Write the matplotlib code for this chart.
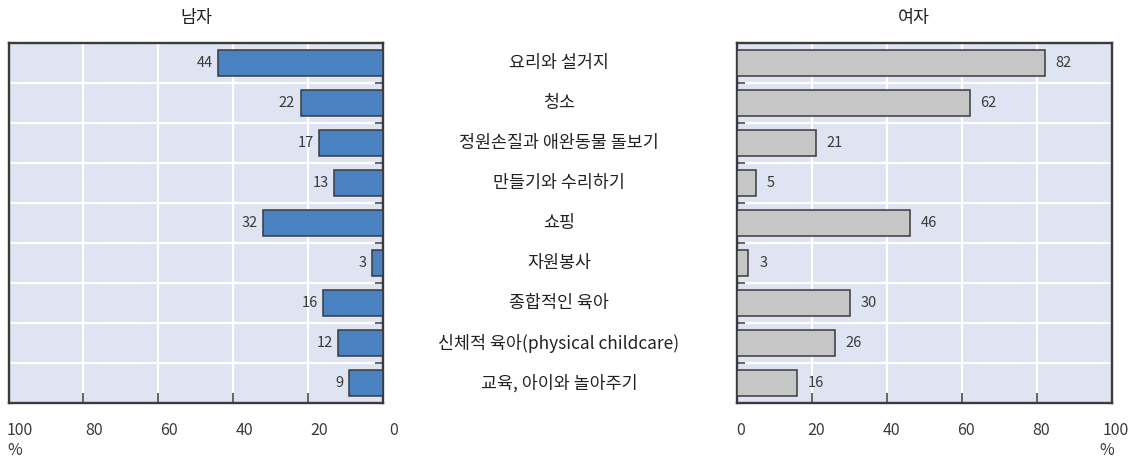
import matplotlib
matplotlib.use("Agg")
import matplotlib.pyplot as plt
from matplotlib.transforms import ScaledTranslation, blended_transform_factory

plt.rcParams['font.family'] = ['Noto Sans CJK KR', 'DejaVu Sans']

categories = ["요리와 설거지", "청소", "정원손질과 애완동물 돌보기", "만들기와 수리하기",
              "쇼핑", "자원봉사", "종합적인 육아",
              "신체적 육아(physical childcare)", "교육, 아이와 놀아주기"]
men = [44, 22, 17, 13, 32, 3, 16, 12, 9]
women = [82, 62, 21, 5, 46, 3, 30, 26, 16]
tick_values = [0, 20, 40, 60, 80, 100]
titles = ["남자", "여자"]

BG = "#dfe4f2"
FRAME = "#3a3a3a"
TEXT = "#3a3a3a"

W, H = 1133, 461
fig = plt.figure(figsize=(W / 100, H / 100), dpi=100)

ax_l = fig.add_axes([8.5 / W, 1 - 403 / H, 374.5 / W, 360 / H])
ax_r = fig.add_axes([737 / W, 1 - 403 / H, 375 / W, 360 / H])

ypos = list(range(len(categories)))


def style(ax, side):
    ax.set_facecolor(BG)
    ax.set_xlim(0, 100)
    if side == "left":
        ax.invert_xaxis()
    ax.set_ylim(len(categories) - 0.5, -0.5)
    for s in ax.spines.values():
        s.set_color(FRAME)
        s.set_linewidth(1.7)
    # white grid
    for v in tick_values[1:-1]:
        ax.axvline(v, color="white", lw=1.6, zorder=1)
    for b in range(len(categories) - 1):
        ax.axhline(b + 0.5, color="white", lw=1.6, zorder=1)
    ax.set_xticks(tick_values)
    ax.set_xticklabels([str(v) for v in tick_values], fontsize=11.5, color=TEXT)
    ax.tick_params(axis="x", direction="in", length=7, width=1.1, color=FRAME, pad=14)
    ax.set_yticks([b + 0.5 for b in range(len(categories) - 1)])
    ax.set_yticklabels([])
    if side == "left":
        ax.yaxis.tick_right()
    ax.tick_params(axis="y", direction="in", length=6, width=1.1, color=FRAME)
    shift = 11 if side == "left" else 4
    for lab in ax.get_xticklabels():
        lab.set_transform(lab.get_transform() + ScaledTranslation(shift / 100, 0, fig.dpi_scale_trans))


style(ax_l, "left")
style(ax_r, "right")

ax_l.barh(ypos, men, height=0.63, color="#4a81c1", edgecolor=FRAME, linewidth=1.1, zorder=3)
ax_r.barh(ypos, women, height=0.63, color="#c6c6c6", edgecolor=FRAME, linewidth=1.1, zorder=3)

for y, v in zip(ypos, men):
    ax_l.annotate(str(v), (v, y), xytext=(-4, 0), textcoords="offset points",
                  ha="right", va="center", fontsize=10.5, color=TEXT)
for y, v in zip(ypos, women):
    ax_r.annotate(str(v), (v, y), xytext=(8, 0), textcoords="offset points",
                  ha="left", va="center", fontsize=10.5, color=TEXT)

# category names between the panels
label_tr = blended_transform_factory(fig.transFigure, ax_l.transData)
for y, name in zip(ypos, categories):
    ax_l.text(559 / W, y, name, transform=label_tr,
              ha="center", va="center", fontsize=12.5, color="#222222", clip_on=False)

fig.text(196 / W, 1 - 18 / H, titles[0], ha="center", va="center", fontsize=12.5, color="#222222")
fig.text(914 / W, 1 - 18 / H, titles[1], ha="center", va="center", fontsize=12.5, color="#222222")
fig.text(15 / W, 1 - 450 / H, "%", ha="center", va="center", fontsize=11.5, color=TEXT)
fig.text(1107 / W, 1 - 450 / H, "%", ha="center", va="center", fontsize=11.5, color=TEXT)

fig.savefig("out.png", dpi=100)
